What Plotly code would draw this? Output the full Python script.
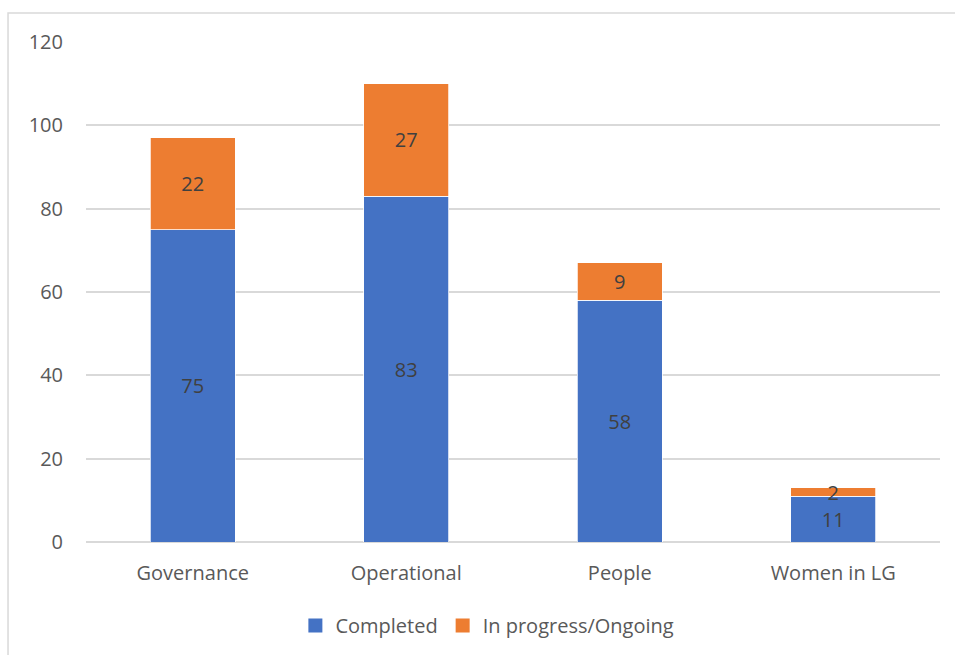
import plotly.graph_objects as go

categories = ["Governance", "Operational", "People", "Women in LG"]
completed = [75, 83, 58, 11]
in_progress = [22, 27, 9, 2]
y_ticks = [0, 20, 40, 60, 80, 100, 120]
series_names = ["Completed", "In progress/Ongoing"]

BLUE = "#4472C4"
ORANGE = "#ED7D31"
FONT = "Open Sans, Noto Sans, sans-serif"
FS = 20

fig = go.Figure()
for name, vals, color in [(series_names[0], completed, BLUE),
                          (series_names[1], in_progress, ORANGE)]:
    fig.add_trace(go.Bar(
        name=name, x=categories, y=vals, showlegend=False,
        marker=dict(color=color, line=dict(color="white", width=0.75)),
        text=vals, textposition="inside", insidetextanchor="middle",
        constraintext="none", textangle=0,
        textfont=dict(color="#404040", size=FS, family=FONT),
    ))
    # square legend keys
    fig.add_trace(go.Scatter(
        name=name, x=[None], y=[None], mode="markers",
        marker=dict(symbol="square", size=14, color=color),
    ))

fig.update_layout(
    barmode="stack",
    bargap=0.6,
    width=955, height=655,
    margin=dict(l=86, r=15, t=42, b=113, autoexpand=False),
    paper_bgcolor="white", plot_bgcolor="white",
    font=dict(family=FONT, size=FS, color="#595959"),
    uniformtext=dict(mode=False),
    legend=dict(
        orientation="h", x=0.47, xanchor="center",
        yref="container", y=0.045, yanchor="middle",
        font=dict(size=FS, color="#595959"), itemwidth=30,
        traceorder="normal", tracegroupgap=0,
    ),
    xaxis=dict(
        showgrid=False, showline=False, ticks="", ticklabelstandoff=17,
        tickfont=dict(size=FS, color="#595959"),
    ),
    yaxis=dict(
        range=[0, 120], tickvals=y_ticks, showgrid=True, gridcolor="#D9D9D9",
        gridwidth=1.5, zeroline=True, zerolinecolor="#D9D9D9", zerolinewidth=1.5,
        showline=False, ticks="", ticklabelstandoff=22,
        tickfont=dict(size=FS, color="#595959"),
    ),
    shapes=[dict(
        type="rect", xref="paper", yref="paper",
        x0=-0.0913, x1=1.2, y0=-0.4, y1=1.058,
        line=dict(color="#D9D9D9", width=1.5), fillcolor="rgba(0,0,0,0)",
        layer="below",
    )],
)

fig.write_html("out.html")
